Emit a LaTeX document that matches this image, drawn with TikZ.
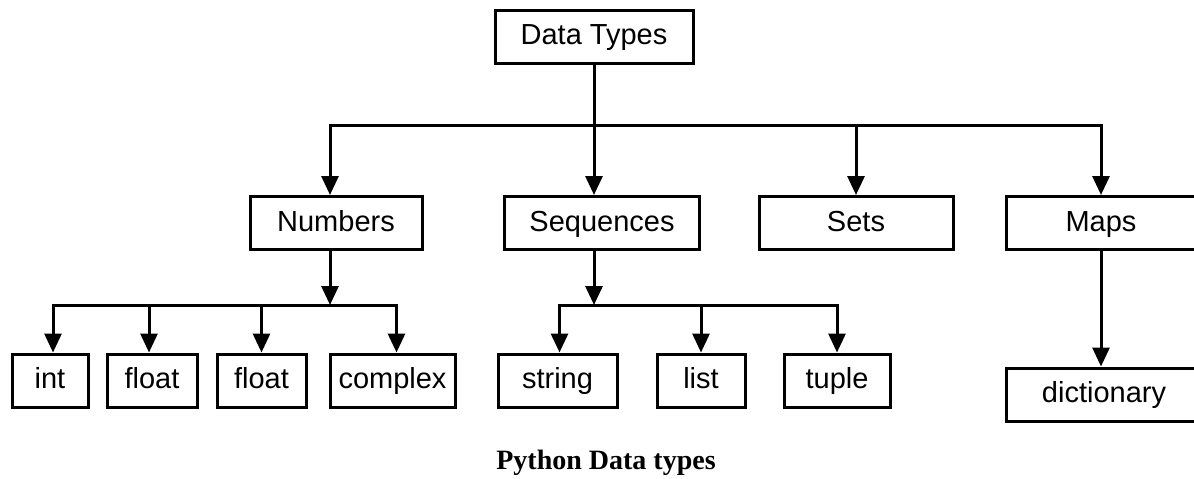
\documentclass[tikz,border=0pt]{standalone}
\usepackage{fontspec}
\setmainfont{Liberation Sans}
\newfontfamily\capfont{Liberation Serif}
\usetikzlibrary{arrows.meta}
\tikzset{
  box/.style={draw,rectangle,inner sep=0pt,minimum height=53pt,
    text height=21pt,text depth=5pt,font=\fontsize{29}{32}\selectfont}
}
\begin{document}
\begin{tikzpicture}[->,>={Triangle[width=17pt,length=19pt]},line width=3pt,x=1pt,y=-1pt]
			\useasboundingbox(0,0)rectangle(1194,479);
			% top level
			\node[box,minimum width=198pt](dt)at(594,36.5){Data Types};
			% second level
			\node[box,minimum width=172pt](num)at(336,223){Numbers};
			\node[box,minimum width=195pt](seq)at(602,223){Sequences};
			\node[box,minimum width=194pt](sets)at(856,223){Sets};
			\node[box,minimum width=190pt](maps)at(1101,223){Maps};
			% third level
			\node[box,minimum width=76pt](int)at(50,380.5){int};
			\node[box,minimum width=90pt](flt)at(152,380.5){float};
			\node[box,minimum width=89pt](flt2)at(261.5,380.5){float};
			\node[box,minimum width=125pt](cpx)at(392.5,380.5){complex};
			\node[box,minimum width=119pt](str)at(557.5,380.5){string};
			\node[box,minimum width=88pt](lst)at(701,380.5){list};
			\node[box,minimum width=106pt](tpl)at(837,380.5){tuple};
			\node[box,minimum width=196pt](dict)at(1104,394.5){dictionary};
			% bus points
			\coordinate(b1)at(594,125);
			\coordinate(b2)at(330,305);
			\coordinate(b3)at(594,305);
			% connectors
			\draw[-](dt)--(b1);
			\draw(b1)-|([xshift=-6pt]num.north);
			\draw(b1)-|([xshift=-8pt]seq.north);
			\draw(b1)-|(sets.north);
			\draw(b1)-|(maps.north);
			\draw([xshift=-6pt]num.south)--(b2);
			\draw(b2)-|([xshift=3pt]int.north);
			\draw(b2)-|([xshift=-3pt]flt.north);
			\draw(b2)-|(flt2.north);
			\draw(b2)-|([xshift=4pt]cpx.north);
			\draw([xshift=-8pt]seq.south)--(b3);
			\draw(b3)-|([xshift=2pt]str.north);
			\draw(b3)-|(lst.north);
			\draw(b3)-|(tpl.north);
			\draw(maps.south)--(maps.south|-dict.north);
			% caption
			\node[font=\capfont\bfseries\fontsize{28}{32}\selectfont](cap)at(606,463){Python Data types};
		\end{tikzpicture}
\end{document}
